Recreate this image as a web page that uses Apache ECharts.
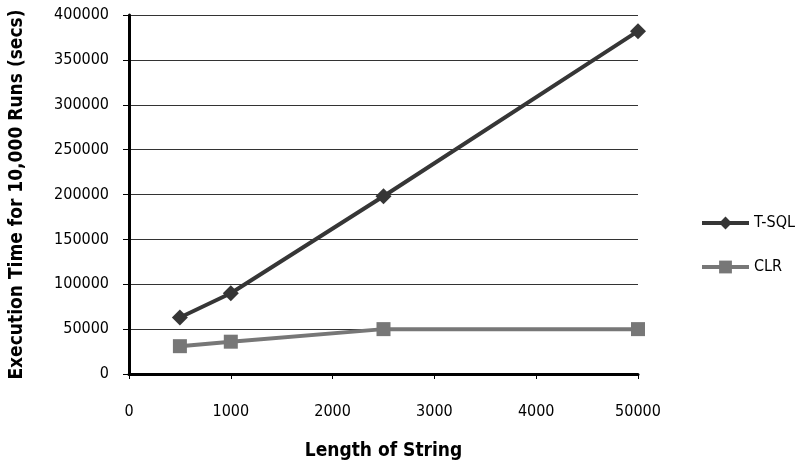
<!DOCTYPE html>
<html><head><meta charset="utf-8">
<script src="https://cdn.jsdelivr.net/npm/echarts@6/dist/echarts.min.js"></script>
<style>html,body{margin:0;padding:0;background:#fff}#c{width:800px;height:460px}</style>
</head><body><div id="c"></div>
<script>
// Point positions on the (non-linear) string-length axis; last one is labelled 50000
const xPositions = [500, 1000, 2500, 5000];
const xTickLabels = ['0', '1000', '2000', '3000', '4000', '50000'];
const tsql = [63000, 90000, 198000, 382000];
const clr = [31000, 36000, 50000, 50000];
const seriesNames = ['T-SQL', 'CLR'];

const font = "'DejaVu Sans Condensed', 'Liberation Sans Narrow', sans-serif";
const chart = echarts.init(document.getElementById('c'));
chart.setOption({
  animation: false,
  textStyle: { fontFamily: font },
  grid: { left: 129, right: 162, top: 15, bottom: 86, outerBoundsMode: 'none', containLabel: false },
  legend: {
    orient: 'vertical', left: 695, top: 210, itemGap: 28,
    itemWidth: 47, itemHeight: 16,
    lineStyle: { width: 4 },
    textStyle: { fontFamily: font, fontSize: 16, color: '#000' },
    data: seriesNames
  },
  xAxis: {
    type: 'value', min: 0, max: 5000, interval: 1000,
    name: 'Length of String', nameLocation: 'middle', nameGap: 68,
    nameTextStyle: { fontFamily: font, fontSize: 19, fontWeight: 'bold', color: '#000' },
    axisLine: { lineStyle: { color: '#000', width: 3 } },
    axisTick: { show: true, length: 5, lineStyle: { color: '#000', width: 1 } },
    axisLabel: { margin: 30, fontSize: 16, color: '#000', formatter: (v) => xTickLabels[Math.round(v / 1000)] },
    splitLine: { show: false }
  },
  yAxis: {
    type: 'value', min: 0, max: 400000, interval: 50000,
    name: 'Execution Time for 10,000 Runs (secs)', nameLocation: 'middle', nameGap: 102,
    nameTextStyle: { fontFamily: font, fontSize: 19, fontWeight: 'bold', color: '#000' },
    axisLine: { show: true, lineStyle: { color: '#000', width: 3 } },
    axisTick: { show: true, length: 6, lineStyle: { color: '#000', width: 1 } },
    axisLabel: { margin: 20, fontSize: 16, color: '#000', formatter: (v) => String(v) },
    splitLine: { show: true, lineStyle: { color: '#333', width: 1 } }
  },
  series: [
    {
      name: seriesNames[0], type: 'line',
      data: xPositions.map((x, i) => [x, tsql[i]]),
      symbol: 'diamond', symbolSize: 16,
      lineStyle: { color: '#363636', width: 4 },
      itemStyle: { color: '#363636' }
    },
    {
      name: seriesNames[1], type: 'line',
      data: xPositions.map((x, i) => [x, clr[i]]),
      symbol: 'rect', symbolSize: 14,
      lineStyle: { color: '#777', width: 4 },
      itemStyle: { color: '#777' }
    }
  ]
});
</script></body></html>
